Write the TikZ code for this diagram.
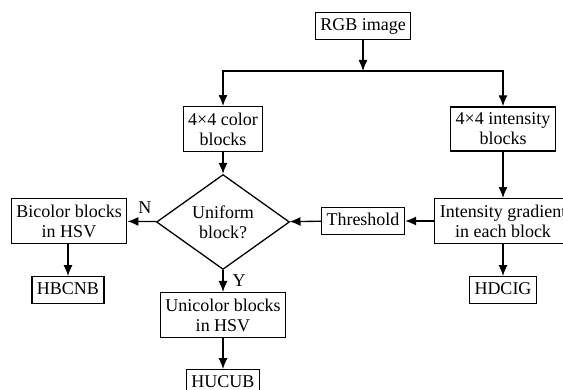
\documentclass[tikz,border=0pt]{standalone}
\usepackage{fontspec}
\setmainfont{Liberation Serif}
\usetikzlibrary{shapes.geometric,arrows.meta}
\begin{document}
\begin{tikzpicture}[x=1pt,y=-1pt,
  every node/.style={font=\fontsize{18}{20}\selectfont},
  box/.style={draw,line width=1.3pt,inner xsep=5pt,inner ysep=6pt,align=center},
  sbox/.style={draw,line width=1.3pt,inner xsep=5pt,inner ysep=5pt,text height=12.5pt,text depth=4pt},
  dia/.style={draw,line width=1.3pt,diamond,inner sep=0pt,minimum width=133pt,minimum height=74pt,align=center},
  arr/.style={line width=1.3pt,-{Latex[length=11pt,width=9pt]}},
  lbl/.style={inner sep=1pt}]
\clip (0,0) rectangle (563,390);
\useasboundingbox (0,0) rectangle (563,390);
\node[sbox] (rgb) at (363,26) {RGB image};
\coordinate (j) at (363,71);
\node[box] (color) at (223,129) {4×4 color\\blocks};
\node[box] (inten) at (503,129) {4×4 intensity\\blocks};
\node[dia] (d) at (223,222) {Uniform\\block?};
\node[box] (bic) at (69,221) {Bicolor blocks\\in HSV};
\node[sbox] (thr) at (363,221) {Threshold};
\node[box] (grad) at (503,221) {Intensity gradient\\in each block};
\node[sbox] (hbcnb) at (68,290) {HBCNB};
\node[box] (uni) at (223,315) {Unicolor blocks\\in HSV};
\node[sbox] (hdcig) at (503,290) {HDCIG};
\node[sbox] (hucub) at (223,383) {HUCUB};
\draw[arr] (rgb) -- (j);
\draw[arr] (j) -| (color);
\draw[arr] (j) -| (inten);
\draw[arr] (color) -- (d);
\draw[arr] (inten) -- (grad);
\draw[arr] (grad) -- (thr);
\draw[arr] (thr) -- (d);
\draw[arr] (d) -- node[lbl,above,pos=0.4,yshift=6pt] {N} (bic);
\draw[arr] (d) -- node[lbl,right,pos=0.5,xshift=8pt] {Y} (uni);
\draw[arr] (bic.south -| hbcnb) -- (hbcnb);
\draw[arr] (uni) -- (hucub);
\draw[arr] (grad) -- (hdcig);
\end{tikzpicture}
\end{document}
